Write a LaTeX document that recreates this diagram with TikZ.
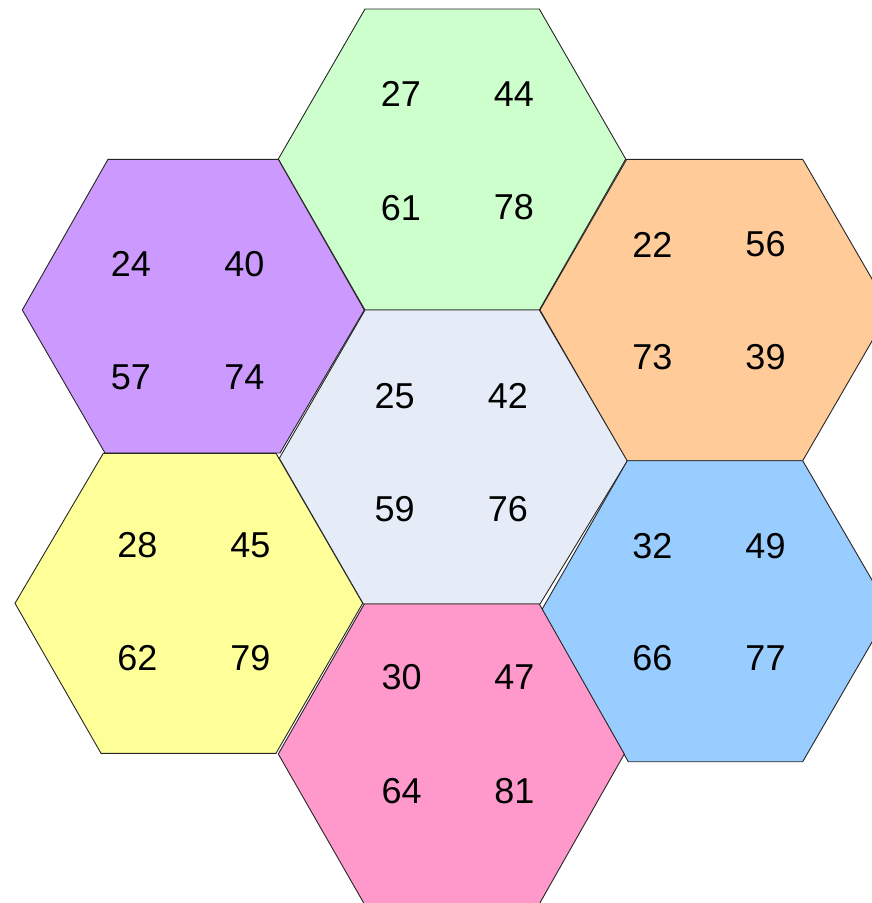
\documentclass[tikz,border=0pt]{standalone}
\usepackage{fontspec}
\setmainfont{Liberation Sans}
\definecolor{hgreen}{HTML}{CCFFCC}
\definecolor{hpurple}{HTML}{CC99FF}
\definecolor{horange}{HTML}{FFCC99}
\definecolor{hcenter}{HTML}{E6ECF7}
\definecolor{hyellow}{HTML}{FFFF99}
\definecolor{hblue}{HTML}{99CCFF}
\definecolor{hpink}{HTML}{FF99CC}
\begin{document}
\begin{tikzpicture}[x=1pt,y=-1pt,
  hexcell/.style={draw=black!85, line width=0.9pt, line join=miter},
  num/.style={inner sep=0pt, font=\fontsize{36}{40}\selectfont, text=black}]
\useasboundingbox (0,0) rectangle (872,903);
\clip (0,0) rectangle (872,903);
% hexagons
\filldraw[hexcell, fill=hgreen]  (365,9) -- (539.3,9) -- (625.7,159) -- (539.3,310) -- (365,310) -- (278.3,159) -- cycle;
\filldraw[hexcell, fill=hpurple] (108,159.3) -- (278.3,159.3) -- (364.3,310) -- (280,453) -- (105,453) -- (22.3,310) -- cycle;
\filldraw[hexcell, fill=horange] (626.7,159.3) -- (802.7,159.3) -- (890,310) -- (802.7,460.7) -- (626.7,460.7) -- (540,310) -- cycle;
\filldraw[hexcell, fill=hcenter] (365,310) -- (539.3,310) -- (627.3,461) -- (540,604) -- (363.3,604) -- (279.3,458.3) -- cycle;
\filldraw[hexcell, fill=hyellow] (103.3,453.3) -- (276,453.3) -- (362.7,603.3) -- (276,753.3) -- (101,753.3) -- (15,603.3) -- cycle;
\filldraw[hexcell, fill=hblue]   (627.3,460.7) -- (802.7,460.7) -- (890,611) -- (802.7,761.7) -- (628.3,761.7) -- (541.7,610) -- cycle;
\filldraw[hexcell, fill=hpink]   (364.3,604) -- (539.3,604) -- (624.3,754) -- (539.3,904) -- (364.3,904) -- (278.3,754) -- cycle;
% green
\node[num] (g1) at (401,94) {27};
\node[num] (g2) at (514,94) {44};
\node[num] (g3) at (401,208) {61};
\node[num] (g4) at (514,207) {78};
% purple
\node[num] (p1) at (131,264) {24};
\node[num] (p2) at (244.5,264) {40};
\node[num] (p3) at (131,377) {57};
\node[num] (p4) at (244.5,377) {74};
% orange
\node[num] (o1) at (652.3,244.5) {22};
\node[num] (o2) at (765.5,244.5) {56};
\node[num] (o3) at (652.3,357.5) {73};
\node[num] (o4) at (765.5,357.5) {39};
% center
\node[num] (c1) at (394.7,396) {25};
\node[num] (c2) at (508,396) {42};
\node[num] (c3) at (394.7,509) {59};
\node[num] (c4) at (508,509) {76};
% yellow
\node[num] (y1) at (137.3,545.5) {28};
\node[num] (y2) at (250.3,545.5) {45};
\node[num] (y3) at (137.3,658) {62};
\node[num] (y4) at (250.3,658) {79};
% blue
\node[num] (b1) at (652.3,545.8) {32};
\node[num] (b2) at (765.5,545.8) {49};
\node[num] (b3) at (652.3,658) {66};
\node[num] (b4) at (765.5,658) {77};
% pink
\node[num] (k1) at (401.7,677.5) {30};
\node[num] (k2) at (514.5,677.5) {47};
\node[num] (k3) at (401.7,791) {64};
\node[num] (k4) at (514.5,791) {81};
\end{tikzpicture}
\end{document}
